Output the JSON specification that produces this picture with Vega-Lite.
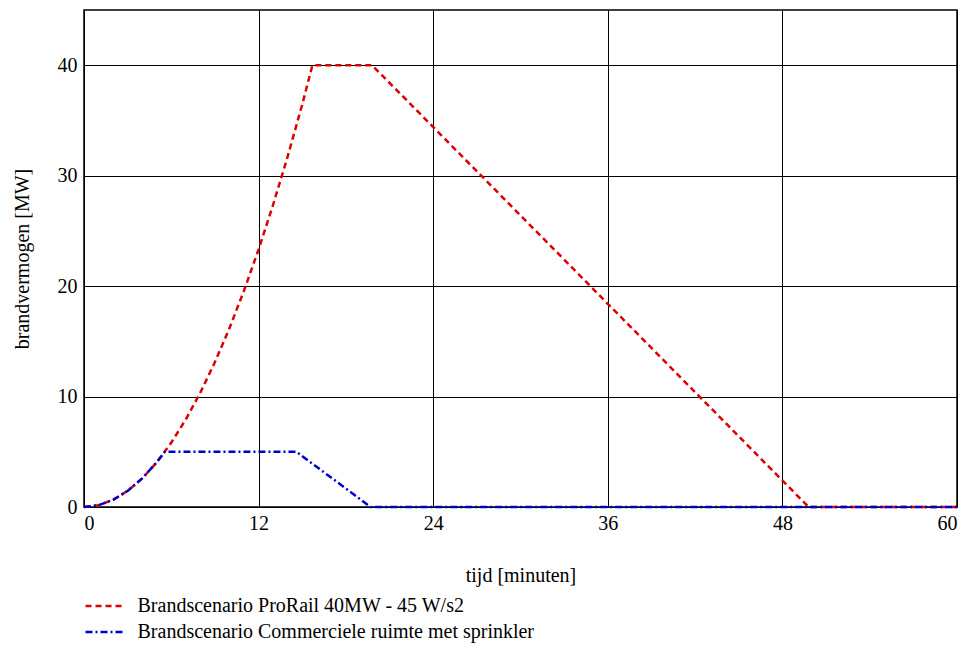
{
  "$schema": "https://vega.github.io/schema/vega-lite/v6.json",
  "autosize": "none",
  "width": 873,
  "height": 497,
  "padding": {"left": 84, "top": 10, "right": 10, "bottom": 140},
  "background": "white",
  "config": {
    "font": "Liberation Serif",
    "view": {"stroke": "black", "strokeWidth": 1.5},
    "axis": {
      "labelFont": "Liberation Serif",
      "titleFont": "Liberation Serif",
      "labelFontSize": 20,
      "titleFontSize": 20,
      "titleFontWeight": "normal",
      "labelColor": "black",
      "titleColor": "black",
      "gridColor": "black",
      "gridOpacity": 1,
      "gridWidth": 1,
      "domainColor": "black",
      "ticks": false
    },
    "legend": {"labelFont": "Liberation Serif", "labelFontSize": 20, "labelColor": "black", "labelLimit": 0}
  },
  "data": {"values": [
    {"series": "Brandscenario ProRail 40MW - 45 W/s2", "t": 0, "q": 0},
    {"series": "Brandscenario ProRail 40MW - 45 W/s2", "t": 1, "q": 0.16},
    {"series": "Brandscenario ProRail 40MW - 45 W/s2", "t": 2, "q": 0.65},
    {"series": "Brandscenario ProRail 40MW - 45 W/s2", "t": 3, "q": 1.46},
    {"series": "Brandscenario ProRail 40MW - 45 W/s2", "t": 4, "q": 2.59},
    {"series": "Brandscenario ProRail 40MW - 45 W/s2", "t": 5, "q": 4.05},
    {"series": "Brandscenario ProRail 40MW - 45 W/s2", "t": 6, "q": 5.83},
    {"series": "Brandscenario ProRail 40MW - 45 W/s2", "t": 7, "q": 7.94},
    {"series": "Brandscenario ProRail 40MW - 45 W/s2", "t": 8, "q": 10.37},
    {"series": "Brandscenario ProRail 40MW - 45 W/s2", "t": 9, "q": 13.12},
    {"series": "Brandscenario ProRail 40MW - 45 W/s2", "t": 10, "q": 16.2},
    {"series": "Brandscenario ProRail 40MW - 45 W/s2", "t": 11, "q": 19.6},
    {"series": "Brandscenario ProRail 40MW - 45 W/s2", "t": 12, "q": 23.33},
    {"series": "Brandscenario ProRail 40MW - 45 W/s2", "t": 13, "q": 27.38},
    {"series": "Brandscenario ProRail 40MW - 45 W/s2", "t": 14, "q": 31.75},
    {"series": "Brandscenario ProRail 40MW - 45 W/s2", "t": 15, "q": 36.45},
    {"series": "Brandscenario ProRail 40MW - 45 W/s2", "t": 15.7, "q": 40},
    {"series": "Brandscenario ProRail 40MW - 45 W/s2", "t": 19.8, "q": 40},
    {"series": "Brandscenario ProRail 40MW - 45 W/s2", "t": 49.8, "q": 0},
    {"series": "Brandscenario ProRail 40MW - 45 W/s2", "t": 60, "q": 0},
    {"series": "Brandscenario Commerciele ruimte met sprinkler", "t": 0, "q": 0},
    {"series": "Brandscenario Commerciele ruimte met sprinkler", "t": 1, "q": 0.16},
    {"series": "Brandscenario Commerciele ruimte met sprinkler", "t": 2, "q": 0.65},
    {"series": "Brandscenario Commerciele ruimte met sprinkler", "t": 3, "q": 1.46},
    {"series": "Brandscenario Commerciele ruimte met sprinkler", "t": 4, "q": 2.59},
    {"series": "Brandscenario Commerciele ruimte met sprinkler", "t": 5, "q": 4.05},
    {"series": "Brandscenario Commerciele ruimte met sprinkler", "t": 5.56, "q": 5},
    {"series": "Brandscenario Commerciele ruimte met sprinkler", "t": 14.6, "q": 5},
    {"series": "Brandscenario Commerciele ruimte met sprinkler", "t": 19.7, "q": 0},
    {"series": "Brandscenario Commerciele ruimte met sprinkler", "t": 60, "q": 0}
  ]},
  "mark": {"type": "line", "strokeWidth": 2.5, "clip": false},
  "encoding": {
    "x": {
      "field": "t", "type": "quantitative",
      "scale": {"domain": [0, 60], "nice": false, "zero": false},
      "axis": {"values": [0, 12, 24, 36, 48, 60], "title": "tijd [minuten]", "titlePadding": 32, "labelPadding": 6, "domain": false}
    },
    "y": {
      "field": "q", "type": "quantitative",
      "scale": {"domain": [0, 45], "nice": false},
      "axis": {"values": [0, 10, 20, 30, 40], "title": "brandvermogen [MW]", "titlePadding": 25, "labelPadding": 7, "domain": false}
    },
    "color": {
      "field": "series", "type": "nominal",
      "scale": {"domain": ["Brandscenario ProRail 40MW - 45 W/s2", "Brandscenario Commerciele ruimte met sprinkler"], "range": ["#dd0000", "#0000cc"]},
      "legend": {"orient": "none", "legendX": 7.5, "legendY": 582, "title": null, "symbolType": "M -1.6 0 H 1.6", "symbolSize": 625, "symbolStrokeWidth": 2.5, "rowPadding": 2, "labelOffset": 18, "labelLimit": 0}
    },
    "strokeDash": {
      "field": "series", "type": "nominal",
      "scale": {"domain": ["Brandscenario ProRail 40MW - 45 W/s2", "Brandscenario Commerciele ruimte met sprinkler"], "range": [[6, 4], [7, 3, 2, 3]]},
      "legend": null
    },
    "order": {"field": "t", "type": "quantitative"}
  }
}
